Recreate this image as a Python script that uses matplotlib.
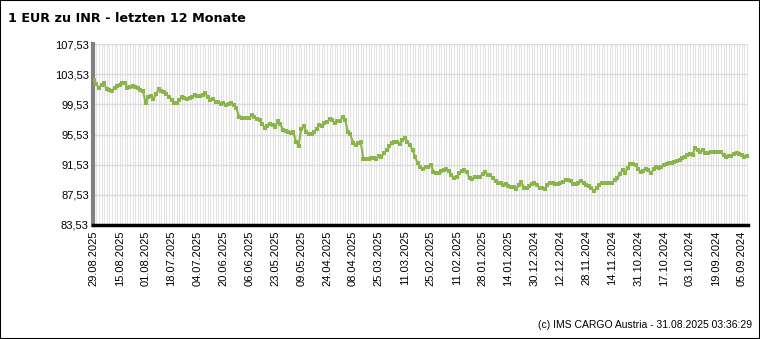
import matplotlib
matplotlib.use("Agg")
import matplotlib.pyplot as plt
from matplotlib.patches import Rectangle

# Kurs EUR -> INR, neuester Wert links (29.08.2025) bis 05.09.2024 rechts
kurs = [
    102.8, 102.2, 101.75, 102.1, 102.3, 101.55, 101.45, 101.3, 101.75, 101.95,
    102.15, 102.3, 102.37, 101.75, 101.85, 101.9, 101.8, 101.7, 101.4, 101.3,
    99.7, 100.5, 100.7, 100.2, 100.9, 101.5, 101.35, 101.2, 100.95, 100.55,
    100.15, 99.65, 99.75, 100.1, 100.5, 100.35, 100.3, 100.4, 100.55, 100.73,
    100.6, 100.6, 100.8, 101.04, 100.5, 100.1, 100.3, 99.9, 99.84, 99.55,
    99.75, 99.5, 99.53, 99.65, 99.45, 99.1, 97.9, 97.76, 97.76, 97.76,
    97.76, 98.05, 97.84, 97.53, 97.45, 96.9, 96.4, 96.6, 96.9, 96.73,
    96.55, 97.26, 96.9, 96.15, 96.05, 95.8, 95.75, 95.84, 94.6, 94.06,
    96.2, 96.6, 95.9, 95.6, 95.6, 95.8, 96.3, 96.8, 96.6, 97.0,
    97.15, 97.6, 97.45, 97.0, 97.3, 97.3, 97.84, 97.5, 95.8, 95.55,
    94.45, 94.1, 94.4, 94.5, 92.3, 92.3, 92.3, 92.35, 92.42, 92.3,
    92.7, 92.6, 93.05, 93.45, 93.95, 94.35, 94.5, 94.5, 94.3, 94.85,
    95.0, 94.6, 94.1, 93.5, 92.5, 91.7, 91.25, 91.0, 91.25, 91.26,
    91.53, 90.6, 90.4, 90.4, 90.65, 90.85, 90.9, 90.65, 90.2, 89.7,
    89.9, 90.4, 90.68, 90.85, 90.5, 89.7, 89.6, 89.93, 89.93, 89.85,
    90.3, 90.6, 90.2, 90.1, 89.8, 89.4, 89.15, 89.04, 88.9, 89.0,
    88.65, 88.6, 88.55, 88.3, 88.9, 89.17, 88.5, 88.4, 88.65, 89.0,
    89.15, 88.9, 88.42, 88.42, 88.32, 88.9, 89.04, 89.04, 89.0, 88.98,
    89.15, 89.25, 89.45, 89.55, 89.3, 88.96, 89.0, 89.1, 89.3, 89.05,
    88.85, 88.65, 88.45, 88.0, 88.4, 88.9, 89.08, 89.1, 89.05, 89.15,
    89.1, 89.5, 89.7, 90.3, 90.8, 90.45, 91.1, 91.66, 91.63, 91.5,
    90.9, 90.55, 90.7, 90.9, 90.8, 90.4, 90.96, 91.2, 91.15, 91.2,
    91.42, 91.63, 91.72, 91.8, 91.9, 92.0, 92.15, 92.35, 92.55, 92.75,
    92.93, 92.86, 93.8, 93.5, 93.25, 93.42, 93.1, 93.1, 93.17, 93.17,
    93.17, 93.25, 93.2, 92.8, 92.55, 92.72, 92.65, 93.0, 93.04, 92.9,
    92.75, 92.6, 92.73,
]

datum_labels = [
    "29.08.2025", "15.08.2025", "01.08.2025", "18.07.2025", "04.07.2025",
    "20.06.2025", "06.06.2025", "23.05.2025", "09.05.2025", "24.04.2025",
    "08.04.2025", "25.03.2025", "11.03.2025", "25.02.2025", "11.02.2025",
    "28.01.2025", "14.01.2025", "30.12.2024", "12.12.2024", "28.11.2024",
    "14.11.2024", "31.10.2024", "17.10.2024", "03.10.2024", "19.09.2024",
    "05.09.2024",
]
y_ticks = [83.53, 87.53, 91.53, 95.53, 99.53, 103.53, 107.53]

plt.rcParams["font.family"] = ["Liberation Sans", "DejaVu Sans"]

fig = plt.figure(figsize=(7.6, 3.39), dpi=100)
ax = fig.add_axes([93 / 760, 1 - 225 / 339, 655 / 760, 181 / 339])

n = len(kurs)
x = list(range(n))

# senkrechte Gitterlinien je Datenpunkt
for xi in x:
    ax.axvline(xi, color="#e4e4e4", lw=0.8, zorder=0)
for yt in y_ticks:
    ax.axhline(yt, color="#dcdcdc", lw=1.0, zorder=0)

ax.plot(x, kurs, color="#8ab54a", lw=1.5, marker="s", markersize=2.2,
        markeredgewidth=0, zorder=3)

ax.set_xlim(-0.3, n - 0.6)
ax.set_ylim(83.53, 107.53)
ax.set_yticks(y_ticks)
ax.set_yticklabels([f"{v:.2f}".replace(".", ",") for v in y_ticks], fontsize=8)
ax.set_xticks(x[::10])
ax.set_xticklabels(datum_labels, rotation=90, fontsize=8)
ax.tick_params(length=0, pad=3)
ax.tick_params(axis="x", pad=4)

for s in ["top", "right"]:
    ax.spines[s].set_visible(False)
ax.spines["left"].set_color("#808080")
ax.spines["left"].set_linewidth(3)
ax.spines["bottom"].set_color("#000000")
ax.spines["bottom"].set_linewidth(2.5)

fig.text(8 / 760, 1 - 18 / 339, "1 EUR zu INR - letzten 12 Monate",
         fontsize=9.2, fontweight="bold", family="DejaVu Sans", va="center")
fig.text(752 / 760, 1 - 325 / 339, "(c) IMS CARGO Austria - 31.08.2025 03:36:29",
         fontsize=7.5, ha="right", va="center")

fig.patches.append(Rectangle((0, 0), 1, 1, transform=fig.transFigure,
                             fill=False, edgecolor="#000000", lw=1.5))

fig.savefig("out.png", dpi=100)
